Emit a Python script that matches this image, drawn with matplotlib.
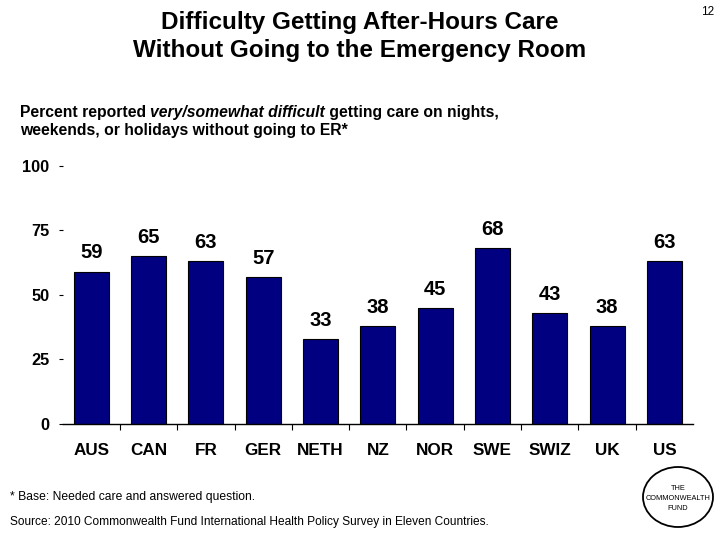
import matplotlib
matplotlib.use("Agg")
import matplotlib.pyplot as plt
from matplotlib.patches import Ellipse
import numpy as np

countries = ["AUS", "CAN", "FR", "GER", "NETH", "NZ", "NOR", "SWE", "SWIZ", "UK", "US"]
values = [59, 65, 63, 57, 33, 38, 45, 68, 43, 38, 63]
yticks = [0, 25, 50, 75, 100]

plt.rcParams['font.family'] = ['Liberation Sans', 'DejaVu Sans']

fig = plt.figure(figsize=(7.2, 5.4), dpi=100)
W, H = 720, 540
ax_left, ax_right = 62.7, 693
ax_bottom, ax_top = 424, 165.7
ax = fig.add_axes([ax_left / W, 1 - ax_bottom / H, (ax_right - ax_left) / W, (ax_bottom - ax_top) / H])

x = np.arange(len(countries))
ax.bar(x, values, width=0.61, color="#000080", edgecolor="black", linewidth=0.8)
ax.set_xlim(-0.5, len(countries) - 0.5)
ax.set_ylim(0, 100)

for xi, v in zip(x, values):
    ax.annotate(str(v), (xi, v), xytext=(0, 13.5), textcoords="offset points",
                ha="center", va="center", fontsize=14.5, fontweight="bold")

for s in ["top", "right", "left"]:
    ax.spines[s].set_visible(False)
ax.spines["bottom"].set_linewidth(1.0)

ax.set_yticks(yticks)
ax.set_yticklabels([str(t) for t in yticks], fontsize=11.8, fontweight="bold")
ax.tick_params(axis="y", length=3, width=0.8, pad=6.5, direction="out")

ax.set_xticks(x[:-1] + 0.5)
ax.set_xticklabels([])
ax.set_xticks(x, minor=True)
ax.set_xticklabels(countries, minor=True, fontsize=12.3, fontweight="bold")
ax.tick_params(axis="x", which="major", length=4, width=0.8, direction="out")
ax.tick_params(axis="x", which="minor", length=0, pad=13.5)

# Title
fig.text(360 / W, 1 - 23 / H, "Difficulty Getting After-Hours Care", ha="center", va="center",
         fontsize=17.5, fontweight="bold")
fig.text(360 / W, 1 - 51 / H, "Without Going to the Emergency Room", ha="center", va="center",
         fontsize=17.5, fontweight="bold")
fig.text(708 / W, 1 - 12 / H, "12", ha="center", va="center", fontsize=8.5)

# Subtitle with italic part
fs_sub = 11.3
t1 = fig.text(20 / W, 1 - 113 / H, "Percent reported ", ha="left", va="center",
              fontsize=fs_sub, fontweight="bold")
t2 = fig.text(0, 0, "very/somewhat difficult", ha="left", va="center",
              fontsize=fs_sub, fontweight="bold", style="italic")
t3 = fig.text(0, 0, " getting care on nights,", ha="left", va="center",
              fontsize=fs_sub, fontweight="bold")
fig.canvas.draw()
r = fig.canvas.get_renderer()
bb1 = t1.get_window_extent(r)
t2.set_position((bb1.x1 / W, 1 - 113 / H))
fig.canvas.draw()
bb2 = t2.get_window_extent(r)
t3.set_position((bb2.x1 / W, 1 - 113 / H))
fig.text(20 / W, 1 - 131 / H, "weekends, or holidays without going to ER*", ha="left", va="center",
         fontsize=fs_sub, fontweight="bold")

# Footnotes
fig.text(10 / W, 1 - 497 / H, "* Base: Needed care and answered question.", ha="left", va="center",
         fontsize=8.7)
fig.text(10 / W, 1 - 522 / H, "Source: 2010 Commonwealth Fund International Health Policy Survey in Eleven Countries.",
         ha="left", va="center", fontsize=8.6)

# Logo
ell = Ellipse((678 / W, 1 - 497 / H), 70 / W, 60 / H, transform=fig.transFigure,
              fill=False, edgecolor="black", linewidth=1.3)
fig.add_artist(ell)
for yy, s in [(488, "THE"), (498, "COMMONWEALTH"), (508, "FUND")]:
    fig.text(678 / W, 1 - yy / H, s, ha="center", va="center", fontsize=5.3)

fig.savefig("out.png", dpi=100)
